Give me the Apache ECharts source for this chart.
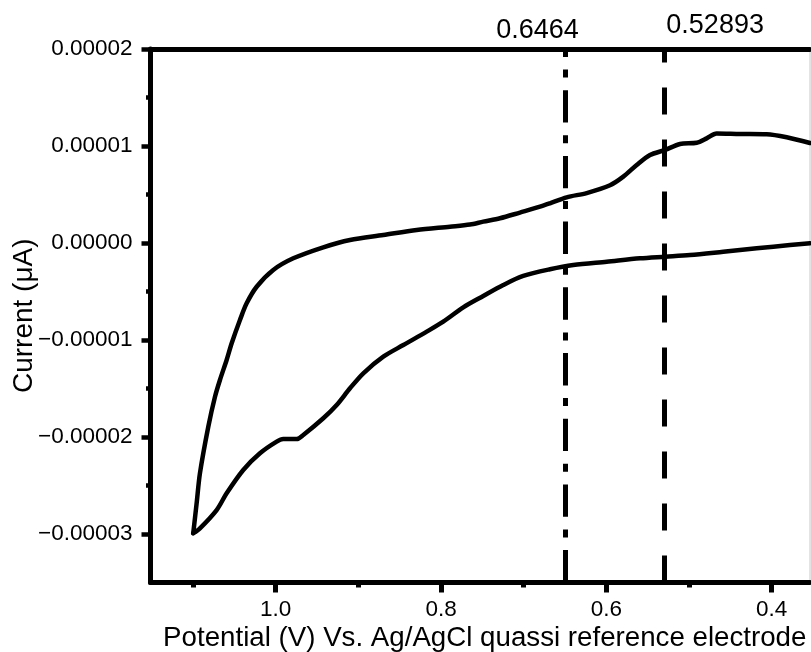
<!DOCTYPE html>
<html><head><meta charset="utf-8">
<script src="https://cdn.jsdelivr.net/npm/echarts@6/dist/echarts.min.js"></script>
<style>html,body{margin:0;padding:0;background:#fff}#c{width:811px;height:652px}</style>
</head><body><div id="c"></div>
<script>
// ---- tick values ----
const xMajorTicks = [0.4, 0.6, 0.8, 1.0];
const xMinorTicks = [0.5, 0.7, 0.9, 1.1];
const yMajorTicks = [-0.00003, -0.00002, -0.00001, 0, 0.00001, 0.00002];
const yMinorTicks = [-0.000025, -0.000015, -0.000005, 0.000005, 0.000015];

// ---- marker potentials ----
const markValues = [0.6464, 0.52893];
const markLabels = ['0.6464', '0.52893'];

// ---- cathodic branch (from 0.35 V to the turning point) ----
const lowerPotential = [0.3537, 0.3779, 0.4182, 0.4586, 0.4988, 0.5287, 0.5593, 0.5996, 0.6400, 0.6682,
  0.7005, 0.7247, 0.7489, 0.7731, 0.7973, 0.8173, 0.8456, 0.8698, 0.8940, 0.9101,
  0.9262, 0.9424, 0.9666, 0.9746, 0.9908, 0.9988, 1.0190, 1.0392, 1.0593, 1.0714, 1.0916, 1.0997];
const lowerCurrent = [-0.03e-6, -0.21e-6, -0.55e-6, -0.90e-6, -1.24e-6, -1.41e-6, -1.58e-6, -1.93e-6, -2.27e-6, -2.71e-6,
  -3.40e-6, -4.33e-6, -5.46e-6, -6.63e-6, -8.11e-6, -9.14e-6, -10.52e-6, -11.72e-6, -13.43e-6, -14.98e-6,
  -16.70e-6, -18.07e-6, -19.79e-6, -20.21e-6, -20.21e-6, -20.48e-6, -21.68e-6, -23.40e-6, -25.80e-6, -27.53e-6, -29.41e-6, -29.92e-6];

// ---- anodic branch (from the turning point back to 0.35 V) ----
const upperPotential = [1.0997, 1.0956, 1.0916, 1.0815, 1.0734, 1.0674, 1.0593, 1.0532, 1.0432, 1.0351,
  1.0230, 1.0029, 0.9787, 0.9424, 0.9101, 0.8698, 0.8294, 0.7892, 0.7650, 0.7489,
  0.7287, 0.7045, 0.6803, 0.6682, 0.6480, 0.6238, 0.5956, 0.5795, 0.5633, 0.5472,
  0.5291, 0.5109, 0.4907, 0.4787, 0.4666, 0.4384, 0.4061, 0.3819, 0.3537];
const upperCurrent = [-29.92e-6, -26.84e-6, -23.74e-6, -18.94e-6, -15.85e-6, -14.12e-6, -12.06e-6, -10.34e-6, -7.94e-6, -6.22e-6,
  -4.51e-6, -2.78e-6, -1.58e-6, -0.44e-6, 0.31e-6, 0.82e-6, 1.34e-6, 1.68e-6, 1.90e-6, 2.20e-6,
  2.55e-6, 3.14e-6, 3.74e-6, 4.09e-6, 4.71e-6, 5.15e-6, 5.95e-6, 6.84e-6, 8.04e-6, 9.07e-6,
  9.59e-6, 10.21e-6, 10.34e-6, 10.79e-6, 11.29e-6, 11.24e-6, 11.21e-6, 10.90e-6, 10.31e-6];

const FONT = '"Liberation Sans", Arial, sans-serif';
const xMin = 0.3537, xMax = 1.1514;
const yMin = -0.000035, yMax = 0.00002;

const zip = (a, b) => a.map((v, i) => [v, b[i]]);
const yFmt = v => (v < 0 ? '\u2212' : '') + Math.abs(v).toFixed(5);

const chart = echarts.init(document.getElementById('c'), null, {renderer: 'canvas'});

const baseX = {type: 'value', min: xMin, max: xMax, inverse: true, splitLine: {show: false}};
const baseY = {type: 'value', min: yMin, max: yMax, splitLine: {show: false}};

chart.setOption({
  animation: false,
  backgroundColor: '#fff',
  grid: {left: 150.5, right: 1, top: 49, bottom: 69.5, show: true, borderColor: '#c8c8c8', borderWidth: 1,
    backgroundColor: 'transparent', containLabel: false, outerBoundsMode: 'none'},
  xAxis: [
    Object.assign({}, baseX, {
      position: 'bottom',
      axisLine: {show: true, onZero: false, lineStyle: {color: '#000', width: 5}},
      axisTick: {show: true, customValues: xMajorTicks, length: 10, lineStyle: {color: '#000', width: 5}},
      axisLabel: {show: true, customValues: xMajorTicks, formatter: v => v.toFixed(1), color: '#000', fontSize: 22.5, fontFamily: FONT, margin: 16},
      name: 'Potential (V) Vs. Ag/AgCl quassi reference electrode',
      nameLocation: 'middle', nameGap: 42, nameMoveOverlap: false,
      nameTextStyle: {color: '#000', fontSize: 27.7, fontFamily: FONT, padding: [0, 0, 0, 9]}
    }),
    Object.assign({}, baseX, {
      position: 'bottom',
      axisLine: {show: false, onZero: false},
      axisTick: {show: true, customValues: xMinorTicks, length: 5, lineStyle: {color: '#000', width: 5}},
      axisLabel: {show: false}
    }),
    Object.assign({}, baseX, {
      position: 'top',
      axisLine: {show: true, onZero: false, lineStyle: {color: '#000', width: 5}},
      axisTick: {show: false},
      axisLabel: {show: false}
    })
  ],
  yAxis: [
    Object.assign({}, baseY, {
      position: 'left',
      axisLine: {show: true, onZero: false, lineStyle: {color: '#000', width: 5}},
      axisTick: {show: true, customValues: yMajorTicks, length: 9, lineStyle: {color: '#000', width: 4.5}},
      axisLabel: {show: true, customValues: yMajorTicks, formatter: yFmt, color: '#000', fontSize: 22.5, fontFamily: FONT, margin: 18},
      name: 'Current (\u03BCA)',
      nameLocation: 'middle', nameGap: 112, nameMoveOverlap: false,
      nameTextStyle: {color: '#000', fontSize: 28, fontFamily: FONT}
    }),
    Object.assign({}, baseY, {
      position: 'left',
      axisLine: {show: false, onZero: false},
      axisTick: {show: true, customValues: yMinorTicks, length: 4.5, lineStyle: {color: '#000', width: 4.5}},
      axisLabel: {show: false}
    })
  ],
  series: [
    {
      type: 'line', xAxisIndex: 0, yAxisIndex: 0,
      data: zip(lowerPotential, lowerCurrent),
      showSymbol: false, smooth: 0.3, silent: true,
      lineStyle: {color: '#000', width: 4.5, cap: 'round', join: 'round'}
    },
    {
      type: 'line', xAxisIndex: 0, yAxisIndex: 0,
      data: zip(upperPotential, upperCurrent),
      showSymbol: false, smooth: 0.3, silent: true,
      lineStyle: {color: '#000', width: 4.5, cap: 'round', join: 'round'},
      markLine: {
        silent: true, symbol: ['none', 'none'], label: {show: false},
        lineStyle: {color: '#000', width: 5},
        emphasis: {disabled: true},
        data: [
          {xAxis: markValues[0], lineStyle: {color: '#000', width: 5, type: [32.4, 12.6, 8, 12.7]}},
          {xAxis: markValues[1], lineStyle: {color: '#000', width: 5, type: [27, 25]}}
        ]
      }
    }
  ]
});

// value annotations above the plot, placed relative to each marker line
const labelDx = [-30.5, 50];
const labelY = [30.5, 25.5];
const graphics = markValues.map((v, i) => {
  const px = chart.convertToPixel({xAxisIndex: 0}, v);
  return {
    type: 'text', x: px + labelDx[i], y: labelY[i], silent: true,
    style: {text: markLabels[i], fill: '#000', fontSize: 27, fontFamily: FONT,
      align: 'center', verticalAlign: 'middle', textAlign: 'center', textVerticalAlign: 'middle'}
  };
});
chart.setOption({graphic: graphics});
</script>
</body></html>
